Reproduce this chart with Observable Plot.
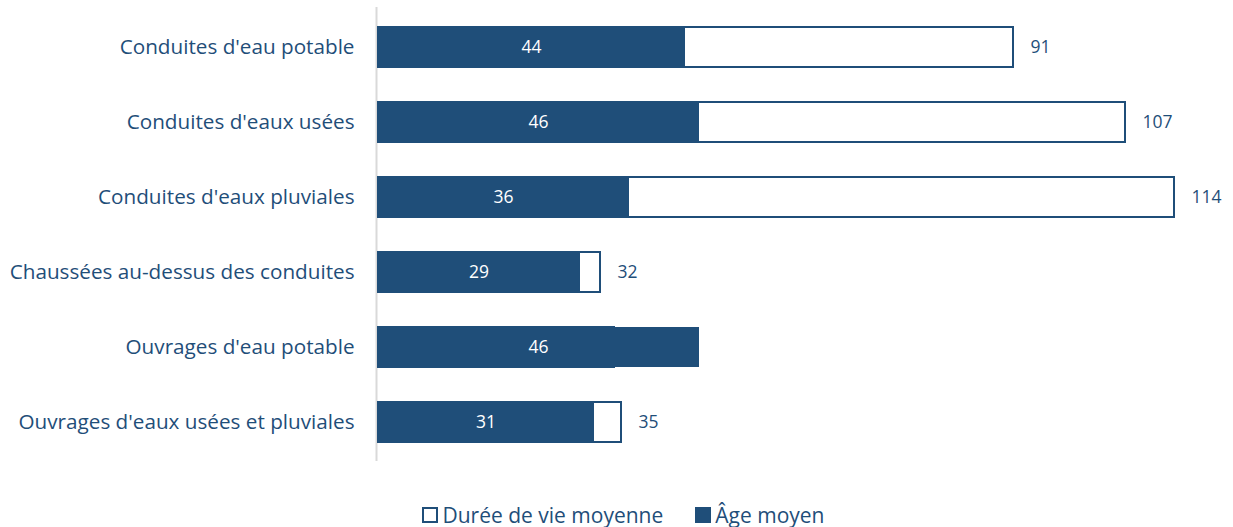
<!DOCTYPE html>
<html>
<head>
<meta charset="utf-8">
<script src="https://cdn.jsdelivr.net/npm/d3@7"></script>
<script src="https://cdn.jsdelivr.net/npm/@observablehq/plot@0.6"></script>
<style>
  body { margin: 0; background: #fff; font-family: "Open Sans", sans-serif; }
  #legend { display: flex; justify-content: center; gap: 32px; margin-top: 32px; padding-left: 14px; font-size: 21px; line-height: 26px; color: #1F4E79; }
  .item { display: flex; align-items: center; gap: 4px; }
  .sw { width: 16px; height: 16px; box-sizing: border-box; }
</style>
</head>
<body>
<div id="chart"></div>
<div id="legend">
  <div class="item"><div class="sw" style="border:2.5px solid #1F4E79;background:#fff"></div><span>Durée de vie moyenne</span></div>
  <div class="item"><div class="sw" style="background:#1F4E79"></div><span>Âge moyen</span></div>
</div>
<script>
const categories = [
  "Conduites d'eau potable",
  "Conduites d'eaux usées",
  "Conduites d'eaux pluviales",
  "Chaussées au-dessus des conduites",
  "Ouvrages d'eau potable",
  "Ouvrages d'eaux usées et pluviales"
];
const dureeVie = [91, 107, 114, 32, 34, 35];
const ageMoyen = [44, 46, 36, 29, 46, 31];

const data = categories.map((c, i) => ({cat: c, duree: dureeVie[i], age: ageMoyen[i]}));
const dark = "#1F4E79";

const plot = Plot.plot({
  width: 1233,
  height: 470,
  marginLeft: 377,
  marginRight: 16,
  marginTop: 7,
  marginBottom: 9,
  style: {fontFamily: "'Open Sans', sans-serif", fontSize: "20.7px", color: dark, background: "#fff"},
  x: {domain: [0, 120], axis: null},
  y: {domain: categories, paddingInner: 0.47, paddingOuter: 0.235, label: null},
  marks: [
    Plot.ruleX([0], {stroke: "#D9D9D9", strokeWidth: 2, dx: -1}),
    Plot.barX(data, {y: "cat", x1: 0, x2: "duree", fill: "#fff", stroke: dark, strokeWidth: 2, insetLeft: 1, insetRight: 1}),
    Plot.barX(data, {y: "cat", x1: 0, x2: "age", fill: dark}),
    Plot.text(data, {y: "cat", x: d => d.age / 2, text: d => String(d.age), fill: "#fff", fontSize: 17.5}),
    Plot.text(data.filter(d => d.duree > d.age), {y: "cat", x: "duree", text: d => String(d.duree), fill: dark, fontSize: 17.5, textAnchor: "start", dx: 16}),
    Plot.axisY({tickSize: 0, tickPadding: 23, fontSize: 20.7, label: null, fill: dark})
  ]
});
document.getElementById("chart").appendChild(plot);
</script>
</body>
</html>
